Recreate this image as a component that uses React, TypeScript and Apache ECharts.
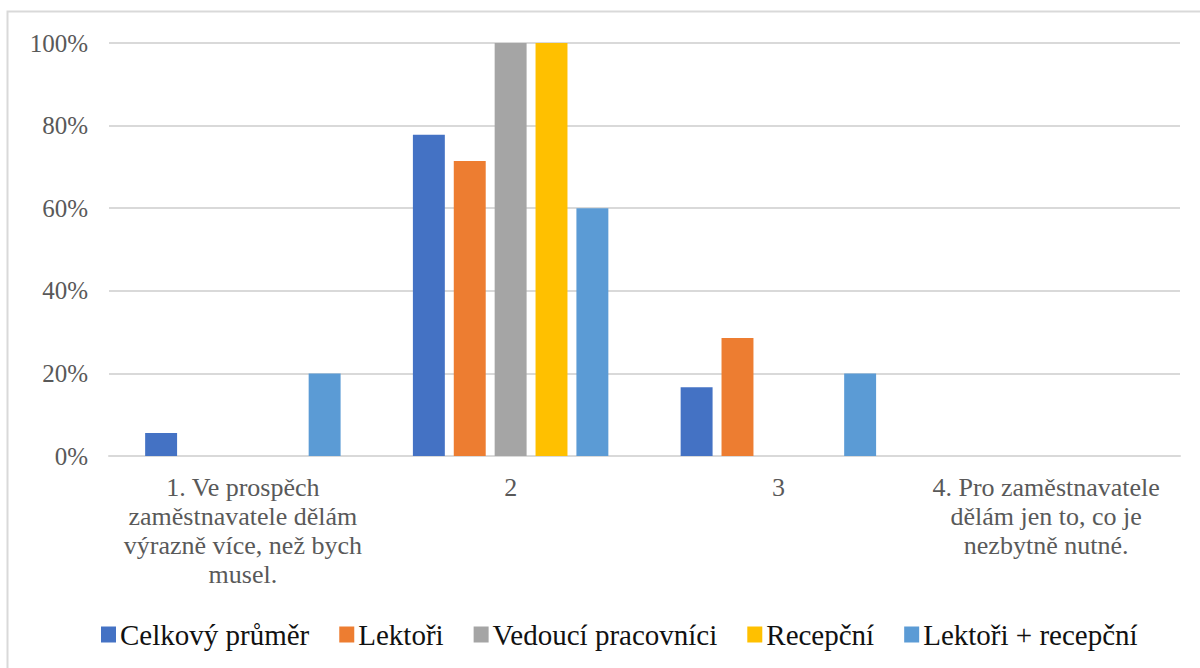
import React, { useEffect, useRef } from "react";
import * as echarts from "echarts";

const categories = [
  "1. Ve prospěch\nzaměstnavatele dělám\nvýrazně více, než bych\nmusel.",
  "2",
  "3",
  "4. Pro zaměstnavatele\ndělám jen to, co je\nnezbytně nutné.",
];
const seriesNames = ["Celkový průměr", "Lektoři", "Vedoucí pracovníci", "Recepční", "Lektoři + recepční"];
const celkovy = [0.0556, 0.7778, 0.1667, 0];
const lektori = [0, 0.7143, 0.2857, 0];
const vedouci = [0, 1, 0, 0];
const recepcni = [0, 1, 0, 0];
const lektoriRecepcni = [0.2, 0.6, 0.2, 0];
const colors = ["#4472C4", "#ED7D31", "#A5A5A5", "#FFC000", "#5B9BD5"];
const yTicks = [0, 0.2, 0.4, 0.6, 0.8, 1];

const FONT = "'Liberation Serif', 'Times New Roman', serif";

export default function App() {
  const ref = useRef<HTMLDivElement>(null);
  useEffect(() => {
    if (!ref.current) return;
    const chart = echarts.init(ref.current, null, { renderer: "svg" });
    const values = [celkovy, lektori, vedouci, recepcni, lektoriRecepcni];
    chart.setOption({
      animation: false,
      textStyle: { fontFamily: FONT },
      graphic: [
        {
          type: "rect",
          shape: { x: 7.5, y: 11.5, width: 1200, height: 700 },
          style: { fill: "none", stroke: "#d9d9d9", lineWidth: 2 },
          silent: true,
          z: -1,
        },
      ],
      grid: { left: 109, right: 20, top: 43, bottom: 212, containLabel: false },
      legend: {
        top: 615,
        left: 96,
        itemWidth: 15,
        itemHeight: 16,
        itemGap: 30,
        icon: "rect",
        textStyle: { fontFamily: FONT, fontSize: 29, color: "#111111", padding: [0, 0, 0, -1] },
        data: seriesNames,
      },
      xAxis: {
        type: "category",
        data: categories,
        axisLine: { lineStyle: { color: "#d9d9d9", width: 2 } },
        axisTick: { show: false },
        axisLabel: {
          fontFamily: FONT,
          fontSize: 26,
          color: "#595959",
          lineHeight: 29,
          margin: 17,
          interval: 0,
        },
      },
      yAxis: {
        type: "value",
        min: 0,
        max: 1,
        interval: 0.2,
        axisLine: { show: false },
        axisTick: { show: false },
        splitLine: { lineStyle: { color: "#d9d9d9", width: 2 } },
        axisLabel: {
          fontFamily: FONT,
          fontSize: 25,
          color: "#595959",
          margin: 21,
          formatter: (v: number) => (yTicks.includes(Math.round(v * 10) / 10) ? Math.round(v * 100) + "%" : ""),
        },
      },
      series: seriesNames.map((name, i) => ({
        name,
        type: "bar",
        data: values[i],
        barGap: "28%",
        barCategoryGap: "27%",
        itemStyle: { color: colors[i] },
      })),
    });
    return () => chart.dispose();
  }, []);
  return (
    <div
      ref={ref}
      style={{ position: "fixed", left: 0, top: 0, width: 1200, height: 668, background: "#fff" }}
    />
  );
}
